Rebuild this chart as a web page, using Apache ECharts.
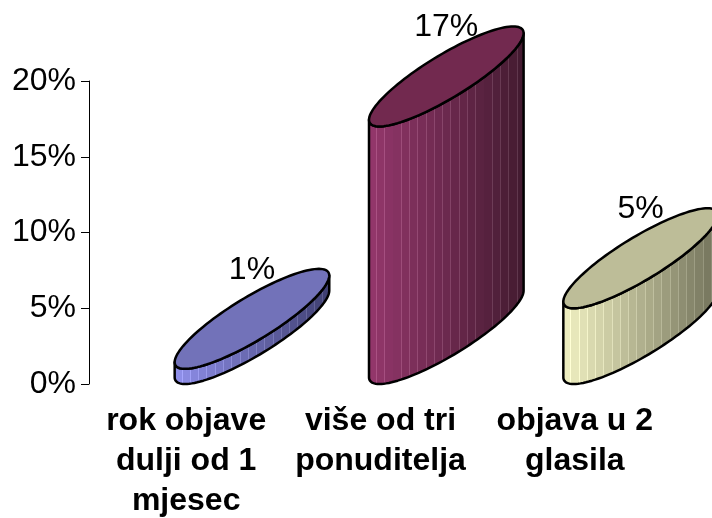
<!DOCTYPE html>
<html>
<head>
<meta charset="utf-8">
<style>html,body{margin:0;padding:0;background:#fff;overflow:hidden}#c{width:712px;height:518px}</style>
<script src="https://cdn.jsdelivr.net/npm/echarts@6/dist/echarts.min.js"></script>
</head>
<body>
<div id="c"></div>
<script>
const categories = ['rok objave\ndulji od 1\nmjesec', 'više od tri\nponuditelja', 'objava u 2\nglasila'];
const values = [1, 17, 5];
const topColors = ['#7272B9', '#72294F', '#BDBD98'];
const sideLeft = [[142,142,232],[146,54,106],[238,238,192]];
const sideRight = [[60,60,108],[64,26,46],[108,108,86]];
const bands = 19;
const FONT = '"Liberation Sans", Arial, sans-serif';

function sideGradient(i) {
  const stops = [];
  const mix = (t, k) => {
    const c = sideLeft[i].map((a, j) => Math.round(Math.min(255, (a + (sideRight[i][j] - a) * t) + k)));
    return `rgb(${c.join(',')})`;
  };
  for (let b = 0; b < bands; b++) {
    const s = b / bands, e = (b + 1) / bands, t = s;
    stops.push({offset: s, color: mix(t, 28)});
    stops.push({offset: s + 0.006, color: mix(t, 28)});
    stops.push({offset: s + 0.006, color: mix(t, 0)});
    stops.push({offset: e, color: mix(t, 0)});
  }
  return {type: 'linear', x: 0, y: 0, x2: 1, y2: 0, colorStops: stops};
}

function renderCylinder(params, api) {
  const i = api.value(0), v = api.value(1);
  const base = api.coord([i, 0]), top = api.coord([i, v]);
  const dx = 65.8, dy = -50, a = 77.3, b = 50, phi = Math.PI / 3;
  const cx = base[0] + dx, yB = base[1] + dy, yT = top[1] + dy;
  const pt = (t, cy) => [cx + a * Math.cos(t), cy - b * Math.sin(t + phi)];
  const N = 120, ellipse = [], side = [];
  for (let k = 0; k < N; k++) ellipse.push(pt(2 * Math.PI * k / N, yT));
  for (let k = 0; k <= N / 2; k++) side.push(pt(Math.PI + Math.PI * k / (N / 2), yT));
  for (let k = 0; k <= N / 2; k++) side.push(pt(2 * Math.PI - Math.PI * k / (N / 2), yB));
  return {type: 'group', children: [
    {type: 'polygon', shape: {points: side},
      style: {fill: sideGradient(i), stroke: '#000', lineWidth: 2.5, lineJoin: 'round'}},
    {type: 'polygon', shape: {points: ellipse},
      style: {fill: topColors[i], stroke: '#000', lineWidth: 2.5}},
    {type: 'text', style: {text: v + '%', x: cx, y: yT - b + 1, align: 'center', verticalAlign: 'middle',
      font: '32px ' + FONT, fill: '#000'}}
  ]};
}

const chart = echarts.init(document.getElementById('c'), null, {renderer: 'canvas'});
chart.setOption({
  animation: false,
  grid: {left: 89, right: 40, top: 81, height: 303, containLabel: false, outerBoundsMode: 'none'},
  xAxis: {type: 'category', data: categories,
    axisLine: {show: false}, axisTick: {show: false},
    axisLabel: {interval: 0, margin: 17, color: '#000', fontFamily: FONT, fontWeight: 'bold', fontSize: 32, lineHeight: 40}},
  yAxis: {type: 'value', min: 0, max: 20, interval: 5,
    axisLine: {show: true, lineStyle: {color: '#000', width: 1}},
    axisTick: {show: true, length: 8, lineStyle: {color: '#000', width: 1}},
    splitLine: {show: false},
    axisLabel: {formatter: '{value}%', margin: 13, color: '#000', fontFamily: FONT, fontSize: 32, padding: [8.5,0,0,0]}},
  series: [{type: 'custom', clip: false, renderItem: renderCylinder,
    encode: {x: 0, y: 1}, data: values.map((v, i) => [i, v])}]
});
</script>
</body>
</html>
